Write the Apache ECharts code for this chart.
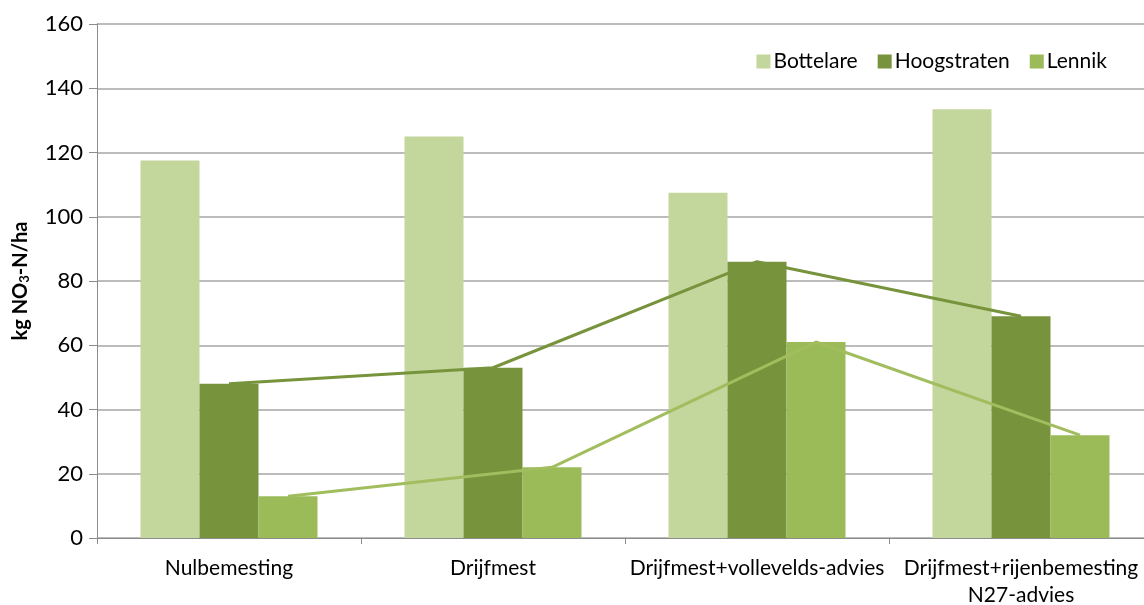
<!DOCTYPE html>
<html>
<head>
<meta charset="utf-8">
<script src="https://cdn.jsdelivr.net/npm/echarts@6/dist/echarts.min.js"></script>
<style>
  html, body { margin: 0; padding: 0; background: #fff; }
  #chart { width: 1144px; height: 605px; }
</style>
</head>
<body>
<div id="chart"></div>
<script>
// Nitrate residue per treatment and site (kg NO3-N/ha)
const categories = ['Nulbemesting', 'Drijfmest', 'Drijfmest+vollevelds-advies', 'Drijfmest+rijenbemesting\nN27-advies'];
const bottelare = [117.5, 125, 107.5, 133.5];
const hoogstraten = [48, 53, 86, 69];
const lennik = [13, 22, 61, 32];
const yTicks = { min: 0, max: 160, interval: 20 };

const FONT = 'Lato, "Open Sans", sans-serif';
const C_BOT = '#c3d69b', C_HOO = '#77933c', C_LEN = '#9bbb59';
const BAR_W = 59;

const chart = echarts.init(document.getElementById('chart'));
chart.setOption({
  animation: false,
  textStyle: { fontFamily: FONT },
  grid: [
    { left: 97, right: -9, top: 24, bottom: 67, outerBoundsMode: 'none', containLabel: false },
    // shifted by one bar width so category centres sit on the Lennik bars
    { left: 97 + BAR_W, right: -9 - BAR_W, top: 24, bottom: 67, outerBoundsMode: 'none', containLabel: false }
  ],
  legend: {
    data: ['Bottelare', 'Hoogstraten', 'Lennik'],
    right: 32, top: 46,
    itemWidth: 14, itemHeight: 14, itemGap: 20,
    icon: 'rect',
    textStyle: { fontFamily: FONT, fontSize: 21, color: '#000', padding: [0, 0, 0, -2] }
  },
  xAxis: [
    {
      type: 'category', gridIndex: 0, data: categories,
      axisLine: { lineStyle: { color: '#8c8c8c', width: 1 } },
      axisTick: { show: true, length: 6, lineStyle: { color: '#8c8c8c' } },
      axisLabel: { fontFamily: FONT, fontSize: 21, color: '#000', margin: 17, lineHeight: 27, interval: 0 }
    },
    { type: 'category', gridIndex: 1, data: categories, show: false }
  ],
  yAxis: [
    {
      type: 'value', gridIndex: 0, min: yTicks.min, max: yTicks.max, interval: yTicks.interval,
      name: '{b|kg NO}{s|3}{b|-N/ha}',
      nameLocation: 'middle', nameGap: 66, nameRotate: 90,
      nameTextStyle: {
        rich: {
          b: { fontFamily: FONT, fontSize: 20, fontWeight: 'bold', color: '#000' },
          s: { fontFamily: FONT, fontSize: 13, fontWeight: 'bold', color: '#000', verticalAlign: 'bottom', padding: [7, 0, 0, 0] }
        }
      },
      axisLine: { show: true, lineStyle: { color: '#8c8c8c', width: 1 } },
      axisTick: { show: true, length: 8, lineStyle: { color: '#8c8c8c' } },
      axisLabel: { fontFamily: FONT, fontSize: 22, color: '#000', margin: 14 },
      splitLine: { lineStyle: { color: '#a6a6a6', width: 1.5 } }
    },
    { type: 'value', gridIndex: 1, min: yTicks.min, max: yTicks.max, interval: yTicks.interval, show: false }
  ],
  series: [
    { name: 'Bottelare', type: 'bar', data: bottelare, barWidth: BAR_W, barGap: '0%', itemStyle: { color: C_BOT } },
    { name: 'Hoogstraten', type: 'bar', data: hoogstraten, barWidth: BAR_W, barGap: '0%', itemStyle: { color: C_HOO } },
    { name: 'Lennik', type: 'bar', data: lennik, barWidth: BAR_W, barGap: '0%', itemStyle: { color: C_LEN } },
    {
      name: 'Hoogstraten trend', type: 'line', data: hoogstraten, z: 5,
      symbol: 'none', lineStyle: { color: C_HOO, width: 3 }
    },
    {
      name: 'Lennik trend', type: 'line', data: lennik, xAxisIndex: 1, yAxisIndex: 1, z: 5,
      symbol: 'none', lineStyle: { color: '#a2bd5e', width: 3 }
    }
  ]
});
</script>
</body>
</html>
